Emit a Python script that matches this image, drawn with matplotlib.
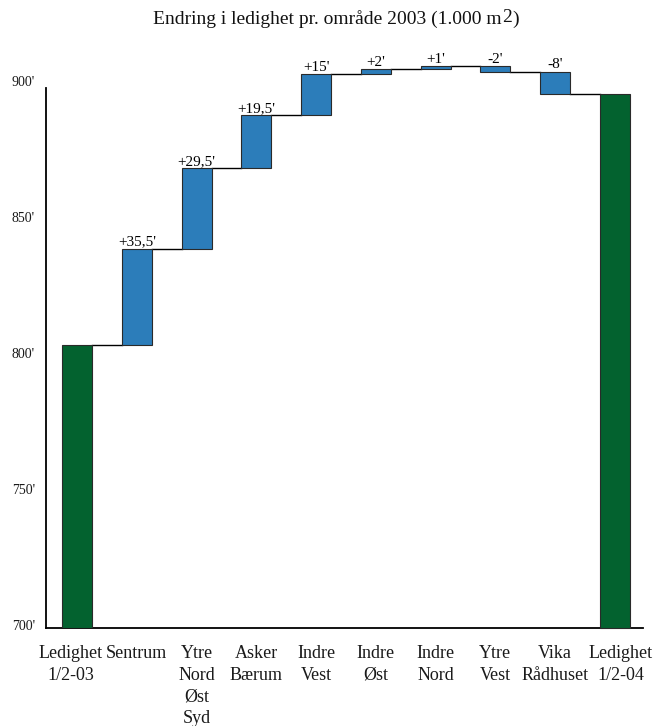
import matplotlib
matplotlib.use("Agg")
import matplotlib.pyplot as plt
import matplotlib.transforms as mtransforms
import numpy as np

plt.rcParams['font.family'] = ['Liberation Serif', 'DejaVu Serif']

# Categories along the x axis
categories = ["Ledighet\n1/2-03", "Sentrum", "Ytre\nNord\nØst\nSyd", "Asker\nBærum",
              "Indre\nVest", "Indre\nØst", "Indre\nNord", "Ytre\nVest",
              "Vika\nRådhuset", "Ledighet\n1/2-04"]
# Vacancy at 1/2-03 (1.000 m2) and change per area
start_level = 804.0
changes = [35.5, 29.5, 19.5, 15, 2, 1, -2, -8]
yticks = [700, 750, 800, 850, 900]
ytick_labels = ["700'", "750'", "800'", "850'", "900'"]

end_level = start_level + sum(changes)

green = "#03622f"
blue = "#2c7dba"
edge = "#2a2a2a"
W, H = 654, 726
fig = plt.figure(figsize=(W / 100, H / 100), dpi=100)
ax = fig.add_axes([46 / W, 98 / H, (643 - 46) / W, 612 / H])

x = np.arange(len(categories))
bw = 0.5
base = 700

# Total bars
ax.bar(x[0], start_level - base, bottom=base, width=bw, color=green, edgecolor=edge, linewidth=0.8, zorder=3)
ax.bar(x[-1], end_level - base, bottom=base, width=bw, color=green, edgecolor=edge, linewidth=0.8, zorder=3, clip_on=False)

# Change bars, connectors and labels
level = start_level
for i, d in enumerate(changes, start=1):
    new = level + d
    lo, hi = min(level, new), max(level, new)
    ax.bar(x[i], hi - lo, bottom=lo, width=bw, color=blue, edgecolor=edge, linewidth=0.8, zorder=3, clip_on=False)
    ax.plot([x[i - 1] + bw / 2, x[i] - bw / 2], [level, level], color="black", lw=1.0, zorder=2, clip_on=False)
    lab = f"{d:+g}".replace('.', ',') + "'"
    ax.annotate(lab, (x[i], hi), xytext=(0, 0.3), textcoords="offset points",
                ha="center", va="bottom", fontsize=11, annotation_clip=False)
    level = new
ax.plot([x[-2] + bw / 2, x[-1] - bw / 2], [level, level], color="black", lw=1.0, zorder=2, clip_on=False)

ax.set_xlim(-0.52, 9.47)
ax.set_ylim(base, 925)
ax.set_yticks(yticks)
ax.set_yticklabels(ytick_labels, fontsize=10)
ax.set_xticks(x)
ax.set_xticklabels(categories, fontsize=13, linespacing=1.38)
ax.tick_params(axis="both", length=0, colors="#1a1a1a")
ax.tick_params(axis="x", pad=12)
ax.tick_params(axis="y", pad=8)
lift = mtransforms.ScaledTranslation(0, 3 / 100, fig.dpi_scale_trans)
for lbl in ax.get_yticklabels():
    lbl.set_transform(lbl.get_transform() + lift)
# nudge the two outer category labels outward so they do not crowd their neighbours
xlabels = ax.get_xticklabels()
for lbl, dx in ((xlabels[0], -6), (xlabels[-1], 6)):
    lbl.set_transform(lbl.get_transform() + mtransforms.ScaledTranslation(dx / 100, 0, fig.dpi_scale_trans))
for s in ["top", "right"]:
    ax.spines[s].set_visible(False)
ax.spines["left"].set_bounds(base, 898.5)
ax.spines["left"].set_linewidth(1.3)
ax.spines["bottom"].set_linewidth(1.3)

# Title with raised exponent
renderer = fig.canvas.get_renderer()
fs = 14
y_t = 1 - 24 / H
parts = [("Endring i ledighet pr. område 2003 (1.000 m", 0), ("2", 2 / H), (")", 0)]
texts = [fig.text(0, y_t + dy, s, fontsize=fs, ha="left", va="baseline", color="#111111") for s, dy in parts]
widths = [t.get_window_extent(renderer).width / W for t in texts]
x0 = 336 / W - sum(widths) / 2
for t, w in zip(texts, widths):
    t.set_x(x0)
    x0 += w

fig.savefig("out.png", dpi=100)
